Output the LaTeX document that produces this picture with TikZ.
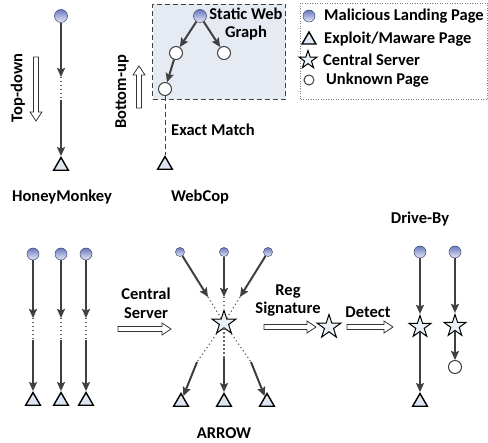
\documentclass[tikz,border=0pt]{standalone}
\usepackage{fontspec}
\setmainfont{Carlito}
\usetikzlibrary{shapes.geometric,arrows.meta}
\definecolor{mblue}{RGB}{104,120,192}
\definecolor{tfill}{RGB}{220,230,242}
\definecolor{dgray}{RGB}{64,64,64}
\definecolor{boxfill}{RGB}{230,234,242}
\tikzset{
 lbl/.style={font=\fontsize{16.5}{18}\selectfont\bfseries, inner sep=0},
 leglbl/.style={font=\fontsize{16.5}{18}\selectfont\bfseries, inner sep=0, anchor=west},
 mal/.style={circle, draw=mblue!60!black, line width=0.5pt, top color=mblue, bottom color=white!85!mblue, minimum size=#1, inner sep=0},
 mal/.default=13pt,
 unk/.style={circle, draw=dgray, line width=1pt, fill=white, minimum size=#1, inner sep=0},
 unk/.default=13pt,
 expl/.style={regular polygon, regular polygon sides=3, draw=black, line width=1.4pt, fill=tfill, minimum size=#1, inner sep=0},
 expl/.default=17pt,
 cstar/.style={star, star points=5, star point ratio=2.6, draw=black, line width=1pt, fill=tfill!60!white, minimum size=#1, inner sep=0},
 cstar/.default=25pt,
 arr/.style={-{Stealth[length=9pt,width=8pt,inset=1.5pt]}, line width=2pt, draw=dgray},
 dotln/.style={draw=gray!80!black, line width=1.2pt, dash pattern=on 1.2pt off 2.8pt},
 dashln/.style={draw=dgray, line width=1pt, dash pattern=on 5pt off 3pt},
 hollow/.style={draw=black!80, line width=0.8pt, fill=white}
}
\begin{document}
\begin{tikzpicture}[x=1pt,y=-1pt]
\useasboundingbox (0,0) rectangle (488,443);

% ---------- HoneyMonkey ----------
\node[mal] (h1) at (61,16) {};
\coordinate (h1a) at (61,77);
\coordinate (h1b) at (61,100);
\node[expl] (h1t) at (61,166) {};
\draw[arr] (h1) -- (h1a);
\draw[dotln] (h1a) -- (h1b);
\draw[arr] (h1b) -- (h1t);
\draw[hollow] (33.5,57) -- (33.5,112) -- (30,112) -- (36,121) -- (42,112) -- (38.5,112) -- (38.5,57) -- cycle;
\node[lbl, rotate=90] (td) at (18,88) {Top-down};
\node[lbl] (hm) at (62,197) {HoneyMonkey};

% ---------- WebCop ----------
\node[dashln, fill=boxfill, minimum width=133pt, minimum height=95pt, anchor=north west, inner sep=0] (wbox) at (152,4) {};
\node[mal] (w1) at (200,16) {};
\node[unk] (w2) at (176,53) {};
\node[unk] (w3) at (224,53) {};
\node[unk] (w4) at (165,89) {};
\node[expl] (wt) at (165,165) {};
\draw[arr] (w1) -- (w2);
\draw[arr] (w1) -- (w3);
\draw[arr] (w2) -- (w4);
\draw[dashln] (w4) -- (wt);
\node[lbl, align=center] (swg) at (246,24) {Static Web\\Graph};
\node[lbl, anchor=west] (em) at (171,130) {Exact Match};
\draw[hollow] (136.5,108) -- (136.5,75) -- (133,75) -- (139,66) -- (145,75) -- (141.5,75) -- (141.5,108) -- cycle;
\node[lbl, rotate=90] (bu) at (122,92) {Bottom-up};
\node[lbl] (wc) at (200,197) {WebCop};

% ---------- Legend ----------
\node[draw=gray, line width=1pt, dash pattern=on 1pt off 1.5pt, minimum width=187pt, minimum height=96pt, anchor=north west, inner sep=0] (leg) at (300,3) {};
\node[mal=12pt] (lg1) at (309,16) {};
\node[leglbl] (lt1) at (324,16) {Malicious Landing Page};
\node[expl=16pt] (lg2) at (309,40) {};
\node[leglbl] (lt2) at (324,39) {Exploit/Maware Page};
\node[cstar=19pt] (lg3) at (308,60) {};
\node[leglbl] (lt3) at (323,60) {Central Server};
\node[unk=10pt] (lg4) at (309,80) {};
\node[leglbl] (lt4) at (326,80) {Unknown Page};

% ---------- Three chains ----------
\foreach \x/\n in {33/1,61/2,86/3}{
  \node[mal=12pt] (c\n) at (\x,254) {};
  \coordinate (c\n a) at (\x,318);
  \coordinate (c\n b) at (\x,340);
  \node[expl] (c\n t) at (\x,401) {};
  \draw[arr] (c\n) -- (c\n a);
  \draw[dotln] (c\n a) -- (c\n b);
  \draw[arr] (c\n b) -- (c\n t);
}
\node[lbl, align=center] (cs) at (146,303) {Central\\[1pt]Server};
\draw[hollow] (118,326.5) -- (162,326.5) -- (162,323) -- (171,329) -- (162,335) -- (162,331.5) -- (118,331.5) -- cycle;

% ---------- ARROW ----------
\node[mal=9pt] (a1) at (180,252) {};
\node[mal=9pt] (a2) at (224,252) {};
\node[mal=9pt] (a3) at (268,252) {};
\node[cstar] (as) at (224,323) {};
\coordinate (a1e) at (208,297);
\coordinate (a2e) at (224,297);
\coordinate (a3e) at (240,297);
\draw[arr] (a1) -- (a1e);
\draw[arr] (a2) -- (a2e);
\draw[arr] (a3) -- (a3e);
\draw[dotln] (a1e) -- (as);
\draw[dotln] (a2e) -- (as);
\draw[dotln] (a3e) -- (as);
\coordinate (b1s) at (197,362);
\coordinate (b2s) at (224,358);
\coordinate (b3s) at (251,362);
\node[expl] (at1) at (181,402) {};
\node[expl] (at2) at (224,402) {};
\node[expl] (at3) at (267,402) {};
\draw[dotln] (as) -- (b1s);
\draw[dotln] (as) -- (b2s);
\draw[dotln] (as) -- (b3s);
\draw[arr] (b1s) -- (at1);
\draw[arr] (b2s) -- (at2);
\draw[arr] (b3s) -- (at3);
\node[lbl] (arl) at (224,433) {ARROW};

% ---------- Reg Signature / Detect ----------
\node[lbl, align=center] (rg) at (288,301) {Reg\\Signature};
\draw[hollow] (264,324.5) -- (307,324.5) -- (307,321) -- (316,327) -- (307,333) -- (307,329.5) -- (264,329.5) -- cycle;
\node[cstar] (rs) at (329,327) {};
\node[lbl] (dt) at (368,312) {Detect};
\draw[hollow] (347,324.5) -- (384,324.5) -- (384,321) -- (393,327) -- (384,333) -- (384,329.5) -- (347,329.5) -- cycle;

% ---------- Drive-By ----------
\node[lbl] (db) at (420,219) {Drive-By};
\node[mal=12pt] (d1) at (420,252) {};
\node[cstar=23pt] (ds1) at (420,327) {};
\node[expl] (dt1) at (420,402) {};
\node[mal=12pt] (d2) at (455,252) {};
\node[cstar=23pt] (ds2) at (455,326) {};
\node[unk] (du) at (455,367) {};
\draw[arr] (d1) -- (ds1);
\draw[arr] (ds1) -- (dt1);
\draw[arr] (d2) -- (ds2);
\draw[arr] (ds2) -- (du);
\end{tikzpicture}
\end{document}
